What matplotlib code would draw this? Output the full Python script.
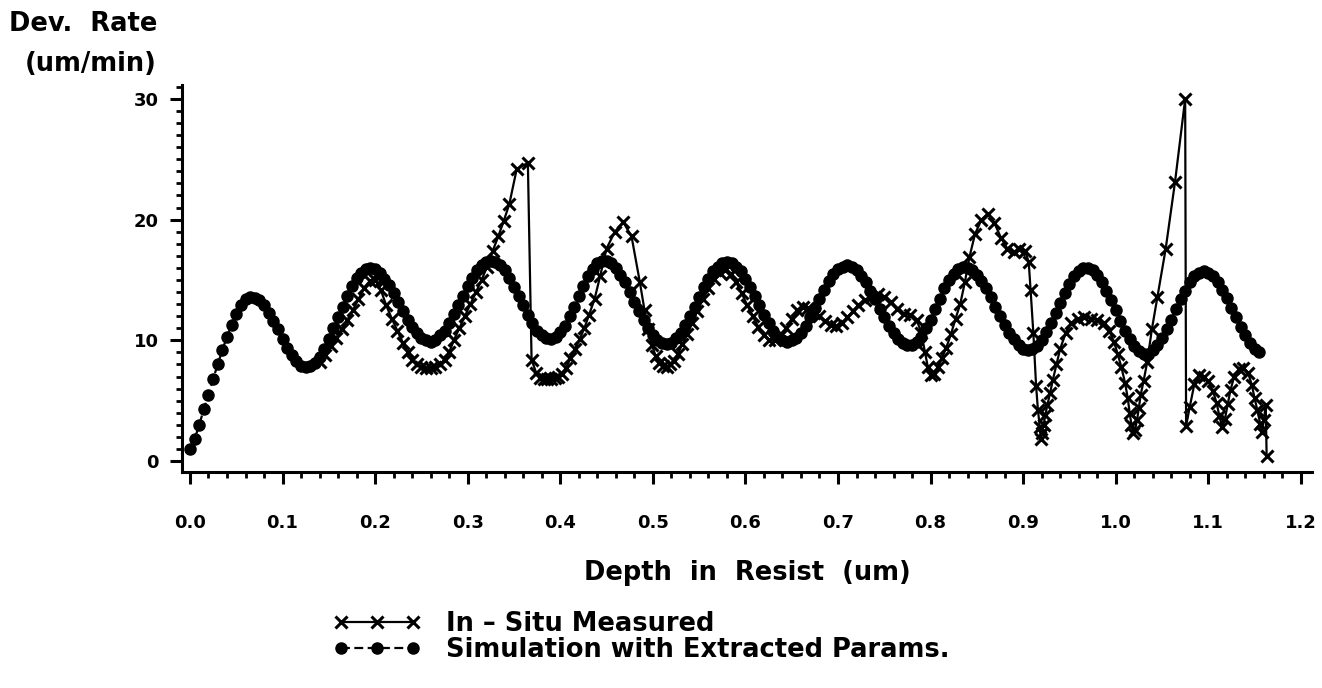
import numpy as np
import matplotlib.pyplot as plt
from matplotlib.ticker import MultipleLocator, FormatStrFormatter

sim_step = 0.005
sim_rate = [
    1.0, 1.8, 3.0, 4.3, 5.5, 6.8, 8.0, 9.2, 10.3, 11.3,
    12.2, 12.9, 13.4, 13.6, 13.5, 13.3, 12.9, 12.3, 11.6, 10.9,
    10.1, 9.4, 8.8, 8.3, 7.9, 7.8, 7.9, 8.1, 8.6, 9.3,
    10.1, 11.0, 11.9, 12.8, 13.7, 14.5, 15.2, 15.6, 15.9, 16.0,
    15.9, 15.6, 15.1, 14.6, 13.9, 13.2, 12.4, 11.7, 11.1, 10.6,
    10.2, 10.0, 9.9, 10.0, 10.4, 10.8, 11.4, 12.2, 12.9, 13.7,
    14.5, 15.2, 15.8, 16.2, 16.5, 16.6, 16.5, 16.2, 15.8, 15.2,
    14.4, 13.7, 12.9, 12.1, 11.4, 10.8, 10.4, 10.2, 10.1, 10.3,
    10.7, 11.2, 12.0, 12.8, 13.7, 14.5, 15.3, 15.9, 16.4, 16.6,
    16.6, 16.4, 16.0, 15.4, 14.8, 14.0, 13.2, 12.4, 11.7, 11.0,
    10.4, 10.0, 9.8, 9.7, 9.8, 10.2, 10.6, 11.3, 12.0, 12.8,
    13.6, 14.4, 15.1, 15.7, 16.1, 16.4, 16.5, 16.4, 16.1, 15.7,
    15.1, 14.4, 13.7, 12.9, 12.1, 11.4, 10.8, 10.3, 10.0, 9.9,
    10.0, 10.2, 10.6, 11.2, 11.9, 12.7, 13.4, 14.2, 14.9, 15.5,
    15.9, 16.1, 16.2, 16.1, 15.8, 15.3, 14.8, 14.1, 13.4, 12.6,
    11.9, 11.2, 10.6, 10.1, 9.8, 9.6, 9.6, 9.9, 10.3, 11.0,
    11.7, 12.6, 13.4, 14.3, 15.0, 15.5, 15.9, 16.1, 16.0, 15.8,
    15.4, 14.9, 14.3, 13.6, 12.8, 12.0, 11.3, 10.6, 10.1, 9.6,
    9.3, 9.2, 9.3, 9.5, 10.0, 10.7, 11.4, 12.3, 13.1, 13.9,
    14.7, 15.3, 15.7, 16.0, 16.0, 15.8, 15.4, 14.8, 14.1, 13.3,
    12.5, 11.6, 10.8, 10.1, 9.5, 9.1, 8.9, 8.9, 9.2, 9.6,
    10.2, 10.9, 11.7, 12.6, 13.4, 14.1, 14.8, 15.3, 15.6, 15.7,
    15.6, 15.3, 14.8, 14.2, 13.5, 12.7, 11.9, 11.1, 10.4, 9.8, 9.3, 9.0,
]

# in-situ measured points (depth um, rate um/min)
meas_depth = [
    0.140, 0.146, 0.152, 0.158, 0.164, 0.170, 0.176, 0.182, 0.188, 0.194,
    0.200, 0.206, 0.212, 0.218, 0.224, 0.230, 0.235, 0.240, 0.245, 0.250,
    0.255, 0.260, 0.265, 0.270, 0.275, 0.280, 0.285, 0.291, 0.297, 0.303,
    0.309, 0.315, 0.321, 0.327, 0.333, 0.339, 0.345, 0.353, 0.365, 0.369,
    0.374, 0.378, 0.382, 0.386, 0.390, 0.394, 0.398, 0.402, 0.406, 0.411,
    0.416, 0.421, 0.426, 0.431, 0.437, 0.443, 0.450, 0.459, 0.468, 0.477,
    0.486, 0.491, 0.495, 0.499, 0.503, 0.507, 0.511, 0.515, 0.519, 0.523,
    0.527, 0.532, 0.537, 0.542, 0.548, 0.554, 0.560, 0.566, 0.572, 0.578,
    0.584, 0.590, 0.596, 0.602, 0.608, 0.614, 0.620, 0.626, 0.632, 0.638,
    0.644, 0.650, 0.656, 0.662, 0.668, 0.674, 0.680, 0.686, 0.692, 0.698,
    0.704, 0.710, 0.716, 0.722, 0.729, 0.736, 0.743, 0.750, 0.757, 0.764,
    0.771, 0.778, 0.785, 0.790, 0.794, 0.797, 0.800, 0.804, 0.808, 0.812,
    0.817, 0.822, 0.827, 0.832, 0.837, 0.842, 0.848, 0.855, 0.862, 0.869,
    0.876, 0.883, 0.890, 0.896, 0.902, 0.906, 0.908, 0.911, 0.914, 0.916,
    0.918, 0.919, 0.920, 0.922, 0.924, 0.926, 0.929, 0.932, 0.936, 0.940,
    0.946, 0.952, 0.959, 0.966, 0.973, 0.980, 0.987, 0.993, 0.998, 1.002,
    1.006, 1.010, 1.013, 1.015, 1.017, 1.019, 1.021, 1.023, 1.025, 1.027,
    1.030, 1.034, 1.039, 1.045, 1.054, 1.064, 1.075, 1.076, 1.080, 1.085,
    1.090, 1.095, 1.100, 1.105, 1.109, 1.112, 1.115, 1.118, 1.121, 1.124,
    1.128, 1.133, 1.138, 1.143, 1.147, 1.150, 1.153, 1.156, 1.158, 1.160,
    1.162, 1.163,
]
meas_rate = [
    8.2, 8.8, 9.5, 10.2, 10.9, 11.7, 12.5, 13.4, 14.3, 14.9,
    15.0, 14.2, 12.9, 11.8, 10.8, 9.8, 9.0, 8.4, 8.0, 7.8,
    7.7, 7.7, 7.8, 8.0, 8.4, 9.0, 10.0, 11.0, 12.0, 13.0,
    14.0, 15.0, 16.1, 17.4, 18.6, 19.9, 21.3, 24.2, 24.7, 8.4,
    7.3, 6.9, 6.8, 6.8, 6.8, 6.9, 7.0, 7.2, 7.7, 8.5,
    9.3, 10.1, 11.0, 12.1, 13.4, 15.3, 17.6, 19.0, 19.8, 18.6,
    14.8, 12.5, 10.9, 9.6, 8.7, 8.1, 7.9, 7.8, 8.0, 8.3,
    8.9, 9.7, 10.5, 11.4, 12.4, 13.4, 14.3, 15.1, 15.6, 15.8,
    15.5, 14.8, 13.9, 12.9, 12.0, 11.1, 10.4, 10.0, 10.0, 10.4,
    11.0, 11.8, 12.5, 12.8, 12.7, 12.3, 12.0, 11.6, 11.3, 11.2,
    11.4, 11.9, 12.4, 12.9, 13.3, 13.6, 13.8, 13.6, 13.2, 12.6,
    12.2, 12.1, 11.7, 10.6, 9.0, 7.8, 7.1, 7.2, 7.8, 8.5,
    9.4, 10.5, 11.8, 13.0, 14.8, 16.9, 18.8, 20.0, 20.5, 19.7,
    18.5, 17.6, 17.3, 17.6, 17.4, 16.5, 14.2, 10.6, 6.2, 4.2,
    2.8, 1.8, 2.3, 3.0, 3.8, 4.6, 5.6, 6.7, 8.0, 9.3,
    10.6, 11.4, 11.8, 11.9, 11.8, 11.7, 11.4, 10.8, 9.9, 8.9,
    7.8, 6.5, 5.2, 4.0, 3.0, 2.3, 2.6, 3.4, 4.4, 5.5,
    6.6, 8.2, 10.9, 13.6, 17.6, 23.1, 30.0, 2.9, 4.5, 6.4,
    7.1, 7.0, 6.6, 5.8, 4.8, 3.7, 2.8, 3.5, 4.7, 5.9,
    7.0, 7.6, 7.7, 7.3, 6.3, 5.2, 4.2, 3.1, 2.4, 3.4,
    4.6, 0.4,
]

x_ticks = [0.0, 0.1, 0.2, 0.3, 0.4, 0.5, 0.6, 0.7, 0.8, 0.9, 1.0, 1.1, 1.2]
y_ticks = [0, 10, 20, 30]

plt.rcParams['font.family'] = ['DejaVu Sans']
plt.rcParams['font.weight'] = 'bold'

W, H = 1322, 688
fig = plt.figure(figsize=(W / 100, H / 100), dpi=100)
ax = fig.add_axes([182 / W, 1 - 472 / H, 1130 / W, 387 / H])

sim_depth = np.arange(len(sim_rate)) * sim_step

ax.plot(meas_depth, meas_rate, color='black', lw=1.6, marker='x', ms=8, mew=2.2,
        label='In – Situ Measured', zorder=2)
ax.plot(sim_depth, sim_rate, color='black', lw=1.6, ls=(0, (4, 2)), marker='o', ms=8,
        label='Simulation with Extracted Params.', zorder=3)

ax.set_xlim(-0.0086, 1.212)
ax.set_ylim(-0.91, 31.15)

for s in ['top', 'right']:
    ax.spines[s].set_visible(False)
for s in ['left', 'bottom']:
    ax.spines[s].set_linewidth(2.2)

ax.set_xticks(x_ticks)
ax.set_yticks(y_ticks)
ax.xaxis.set_major_formatter(FormatStrFormatter('%.1f'))
ax.xaxis.set_minor_locator(MultipleLocator(0.02))
ax.yaxis.set_minor_locator(MultipleLocator(1))
ax.tick_params(which='major', direction='out', length=8.6, width=2.2, labelsize=13)
ax.tick_params(which='minor', direction='out', length=4.0, width=2.0)
ax.tick_params(axis='x', which='major', pad=22)
ax.tick_params(axis='y', which='major', pad=8)

fig.text(157 / W, 1 - 24 / H, 'Dev.  Rate', ha='right', va='center', fontsize=18.5, fontweight='bold')
fig.text(157 / W, 1 - 64 / H, '(um/min)', ha='right', va='center', fontsize=18.5, fontweight='bold')
fig.text(747 / W, 1 - 573 / H, 'Depth  in  Resist  (um)', ha='center', va='center',
         fontsize=18.5, fontweight='bold')

ax.legend(loc='upper left', bbox_to_anchor=(333 / W, 1 - 611 / H), bbox_transform=fig.transFigure,
          frameon=False, numpoints=3, handlelength=3.4, handletextpad=1.0,
          borderpad=0, borderaxespad=0, labelspacing=0.0,
          prop={'size': 18.5, 'weight': 'bold'})

fig.savefig('out.png', dpi=100)
